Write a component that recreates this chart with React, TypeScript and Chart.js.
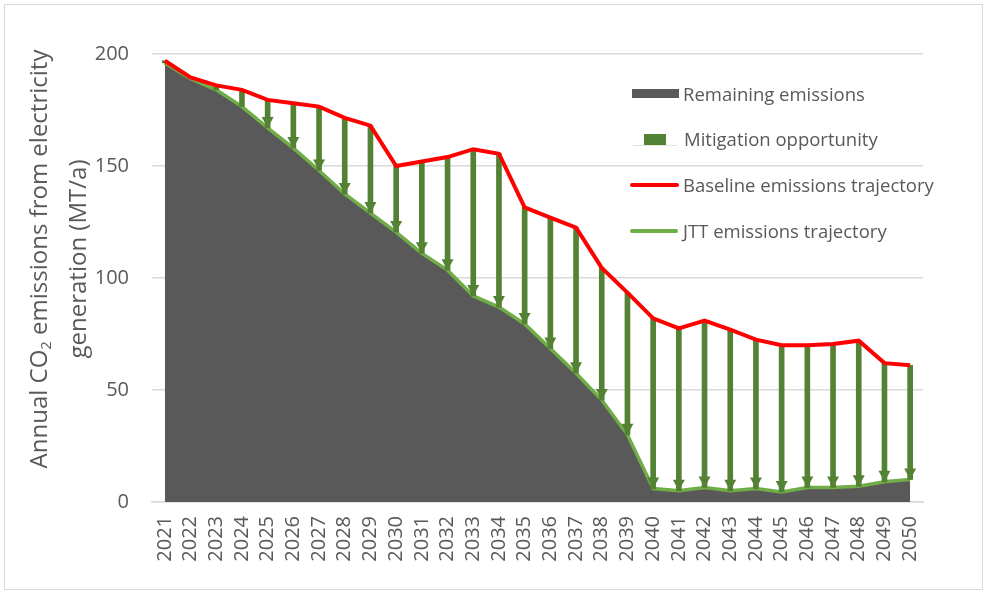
import React, { useEffect, useRef } from "react";
import { Chart, registerables } from "chart.js";

Chart.register(...registerables);

const years = [
  "2021", "2022", "2023", "2024", "2025", "2026", "2027", "2028", "2029", "2030",
  "2031", "2032", "2033", "2034", "2035", "2036", "2037", "2038", "2039", "2040",
  "2041", "2042", "2043", "2044", "2045", "2046", "2047", "2048", "2049", "2050",
];

const baseline = [
  197, 189.5, 186, 184, 179.5, 178, 176.5, 171.5, 168, 150,
  152, 154, 157.5, 155.5, 131.5, 127, 122.5, 104.5, 93.5, 82,
  77.5, 81, 77, 72.5, 70, 70, 70.5, 72, 62, 61,
];

const jtt = [
  196, 189, 184, 176.5, 167, 158, 148, 137.5, 129, 120.5,
  111, 103.5, 92, 87, 79.5, 68.5, 57.5, 45.5, 30, 6,
  5, 6.5, 5, 6, 4.5, 6.5, 6.5, 7, 9, 10,
];

const yTicks = [0, 50, 100, 150, 200];

const legendLabels = [
  "Remaining emissions",
  "Mitigation opportunity",
  "Baseline emissions trajectory",
  "JTT emissions trajectory",
];

const FONT = "'Open Sans', 'Liberation Sans', sans-serif";
const TEXT = "#595959";
const GRAY = "#595959";
const ARROW = "#548235";
const GREEN = "#70ad47";
const RED = "#ff0000";
const GRID = "#d9d9d9";

const arrowHeads = {
  id: "arrowHeads",
  afterDatasetsDraw(chart: any) {
    const { ctx, scales } = chart;
    const x = scales.x;
    const y = scales.y;
    ctx.save();
    ctx.fillStyle = ARROW;
    for (let i = 0; i < years.length; i++) {
      const px = x.getPixelForValue(i);
      const pTop = y.getPixelForValue(baseline[i]);
      const pBot = y.getPixelForValue(jtt[i]);
      if (pBot - pTop < 22) continue;
      ctx.beginPath();
      ctx.moveTo(px - 6, pBot - 11);
      ctx.lineTo(px + 6, pBot - 11);
      ctx.lineTo(px, pBot);
      ctx.closePath();
      ctx.fill();
    }
    ctx.restore();
  },
};

export default function App() {
  const ref = useRef<HTMLCanvasElement | null>(null);

  useEffect(() => {
    if (!ref.current) return;
    const chart = new Chart(ref.current, {
      type: "bar",
      data: {
        labels: years,
        datasets: [
          {
            type: "line",
            label: legendLabels[0],
            data: jtt,
            borderColor: GREEN,
            borderWidth: 3.5,
            backgroundColor: GRAY,
            fill: "origin",
            pointRadius: 0,
            tension: 0,
            order: 3,
          } as any,
          {
            type: "bar",
            label: legendLabels[1],
            data: jtt.map((v, i) => [v, baseline[i]]),
            backgroundColor: ARROW,
            barThickness: 5,
            order: 2,
          } as any,
          {
            type: "line",
            label: legendLabels[2],
            data: baseline,
            borderColor: RED,
            borderWidth: 4,
            pointRadius: 0,
            tension: 0,
            fill: false,
            order: 1,
          } as any,
        ],
      },
      options: {
        responsive: false,
        animation: false,
        layout: { padding: { left: 0, top: 54, right: 65, bottom: 0 } },
        plugins: {
          legend: { display: false },
          tooltip: { enabled: false },
          title: { display: false },
        },
        scales: {
          x: {
            offset: true,
            grid: { display: false, drawTicks: false },
            border: { display: true, color: GRID, width: 1.5 },
            ticks: {
              autoSkip: false,
              minRotation: 90,
              maxRotation: 90,
              padding: 14,
              color: TEXT,
              font: { family: FONT, size: 20 },
            },
            afterFit(scale: any) {
              scale.height = 91;
            },
          },
          y: {
            min: 0,
            max: 200,
            afterBuildTicks(scale: any) {
              scale.ticks = yTicks.map((v) => ({ value: v }));
            },
            grid: { color: GRID, lineWidth: 1.5, drawTicks: false },
            border: { display: false },
            ticks: {
              padding: 23,
              color: TEXT,
              font: { family: FONT, size: 20 },
            },
            afterFit(scale: any) {
              scale.width = 152;
            },
          },
        },
      } as any,
      plugins: [arrowHeads],
    });
    return () => chart.destroy();
  }, []);

  const textStyle: React.CSSProperties = {
    position: "absolute",
    fontFamily: FONT,
    fontSize: 18.5,
    lineHeight: "24px",
    color: TEXT,
    whiteSpace: "nowrap",
  };

  return (
    <div
      style={{
        position: "absolute",
        left: 0,
        top: 0,
        width: 988,
        height: 593,
        background: "#ffffff",
        overflow: "hidden",
      }}
    >
      <div
        style={{
          position: "absolute",
          left: 4,
          top: 4,
          width: 979,
          height: 586,
          border: `1px solid ${GRID}`,
          boxSizing: "border-box",
        }}
      />
      <canvas
        ref={ref}
        width={988}
        height={593}
        style={{ position: "absolute", left: 0, top: 0, display: "block" }}
      />
      {/* y-axis title */}
      <div
        style={{
          position: "absolute",
          left: 52.5 - 250,
          top: 259 - 31,
          width: 500,
          height: 62,
          transform: "rotate(-90deg)",
          transformOrigin: "50% 50%",
          textAlign: "center",
          fontFamily: FONT,
          fontSize: 24,
          lineHeight: "31px",
          color: TEXT,
          whiteSpace: "nowrap",
        }}
      >
        <div>
          Annual CO
          <span style={{ fontSize: "0.62em", verticalAlign: "-0.3em" }}>2</span>
          {" "}emissions from electricity
        </div>
        <div>generation (MT/a)</div>
      </div>
      {/* legend */}
      <div style={{ position: "absolute", left: 632, top: 89, width: 47, height: 9, background: GRAY }} />
      <div style={{ ...textStyle, left: 683, top: 94 - 12 }}>{legendLabels[0]}</div>

      <div style={{ position: "absolute", left: 633, top: 145, width: 44, height: 1, background: "#dfe8d8" }} />
      <div style={{ position: "absolute", left: 644, top: 134, width: 22, height: 11, background: ARROW }} />
      <div style={{ ...textStyle, left: 684, top: 139 - 12 }}>{legendLabels[1]}</div>

      <div style={{ position: "absolute", left: 630, top: 183, width: 49, height: 4, borderRadius: 2, background: RED }} />
      <div style={{ ...textStyle, left: 683, top: 185 - 12 }}>{legendLabels[2]}</div>

      <div style={{ position: "absolute", left: 630, top: 229, width: 48, height: 4, borderRadius: 2, background: GREEN }} />
      <div style={{ ...textStyle, left: 683, top: 231 - 12 }}>{legendLabels[3]}</div>
    </div>
  );
}
